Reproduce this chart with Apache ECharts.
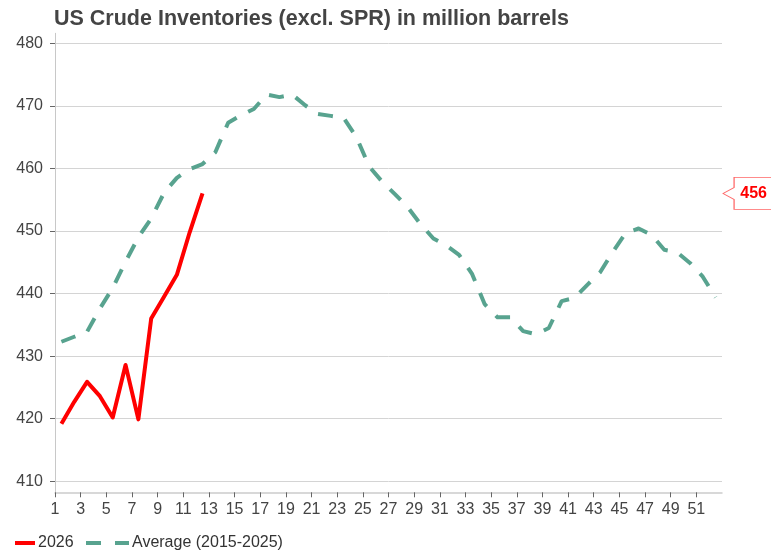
<!DOCTYPE html>
<html>
<head>
<meta charset="utf-8">
<script src="https://cdn.jsdelivr.net/npm/echarts@6.0.0/dist/echarts.min.js"></script>
<style>
  html, body { margin: 0; padding: 0; background: #fff; }
  #chart { width: 771px; height: 553px; }
</style>
</head>
<body>
<div id="chart"></div>
<script>
// week numbers (categories)
const weeks = ['1', '2', '3', '4', '5', '6', '7', '8', '9', '10', '11', '12', '13',
  '14', '15', '16', '17', '18', '19', '20', '21', '22', '23', '24', '25', '26',
  '27', '28', '29', '30', '31', '32', '33', '34', '35', '36', '37', '38', '39',
  '40', '41', '42', '43', '44', '45', '46', '47', '48', '49', '50', '51', '52'];
// tick labels sit on the week boundaries, one more than the weeks
const weekTicks = weeks.concat(['53']);

const yTicks = [410, 480, 10]; // min, max, step

const inv2026 = [419.2, 422.7, 425.9, 423.6, 420.2, 428.6, 419.9, 436.0, 439.5, 443.0, 449.8, 456.0];

const avg2015_2025 = [432.3, 433.1, 433.9, 437.6, 440.9, 445.1, 449.0, 452.0, 456.1, 458.5,
  459.9, 460.7, 462.6, 467.3, 468.5, 469.5, 471.8, 471.4, 471.8, 470.1,
  468.7, 468.4, 468.1, 465.0, 460.3, 457.9, 455.9, 453.8, 451.1, 448.8,
  447.7, 446.2, 443.2, 438.3, 436.2, 436.2, 434.0, 433.5, 434.5, 438.8,
  439.3, 441.4, 443.4, 446.7, 449.7, 450.4, 449.4, 447.0, 446.6, 444.9,
  442.7, 439.4];

const font = "'Liberation Sans', Arial, sans-serif";
const lastVal = inv2026[inv2026.length - 1];
const everyOther = (i) => i % 2 === 0 && i < weeks.length;

const myChart = echarts.init(document.getElementById('chart'));
myChart.setOption({
  animation: false,
  textStyle: { fontFamily: font },
  title: {
    text: 'US Crude Inventories (excl. SPR) in million barrels',
    left: 54, top: 8, padding: 0,
    textStyle: { fontSize: 21.5, fontWeight: 'bold', color: '#444', fontFamily: font }
  },
  legend: [
    {
      data: ['2026'], left: 15, top: 535, padding: 0,
      icon: 'path://M0,0 L20,0 L20,4 L0,4 Z',
      itemWidth: 20, itemHeight: 4,
      textStyle: { fontSize: 16, color: '#333', fontFamily: font, padding: [0, 0, 0, -2] }
    },
    {
      data: ['Average (2015-2025)'], left: 86, top: 535, padding: 0,
      icon: 'path://M0,0 L15,0 L15,4 L0,4 Z M29,0 L43,0 L43,4 L29,4 Z',
      itemWidth: 43, itemHeight: 4,
      textStyle: { fontSize: 16, color: '#333', fontFamily: font, padding: [0, 0, 0, -2] }
    }
  ],
  grid: [
    { left: 55, right: 49, top: 33.3, bottom: 60.7 },
    { left: 55, right: 49, top: 43.3, bottom: 71.7 }
  ],
  xAxis: [
    { type: 'category', gridIndex: 0, data: weeks, boundaryGap: true, show: false },
    {
      type: 'category', gridIndex: 0, data: weekTicks, boundaryGap: false, position: 'bottom',
      axisLine: { lineStyle: { color: '#ccc', width: 1.5 } },
      axisTick: { interval: everyOther, length: 5, lineStyle: { color: '#666' } },
      axisLabel: { interval: everyOther, margin: 9, fontSize: 16, color: '#444', fontFamily: font },
      splitLine: { show: false }
    },
    { type: 'category', gridIndex: 1, data: weeks, show: false }
  ],
  yAxis: [
    {
      type: 'value', gridIndex: 0, min: 408.24, max: 481.6,
      axisLine: { show: true, lineStyle: { color: '#c8c8c8' } },
      axisTick: { show: false }, axisLabel: { show: false }, splitLine: { show: false }
    },
    {
      type: 'value', gridIndex: 1, min: yTicks[0], max: yTicks[1], interval: yTicks[2],
      axisLine: { show: false },
      axisTick: { show: true, length: 5, lineStyle: { color: '#666' } },
      axisLabel: { margin: 12, fontSize: 16, color: '#444', fontFamily: font },
      splitLine: { lineStyle: { color: '#d4d4d4' } }
    }
  ],
  series: [
    {
      name: '2026', type: 'line', xAxisIndex: 0, yAxisIndex: 0,
      data: inv2026, showSymbol: false, symbol: 'none', z: 3,
      lineStyle: { color: '#ff0000', width: 4, join: 'round' },
      itemStyle: { color: '#ff0000' },
      markPoint: {
        symbol: 'path://M11,0 L51,0 L51,32 L11,32 L11,22 L0,16 L11,10 Z',
        symbolSize: [51, 32],
        symbolOffset: [33, 0],
        itemStyle: { color: '#fff', borderColor: '#ff6666', borderWidth: 1 },
        label: {
          show: true, position: 'inside', offset: [5, 0],
          formatter: '{c}', fontSize: 16, fontWeight: 'bold', color: '#ff0000', fontFamily: font
        },
        data: [{ coord: [weeks[weeks.length - 1], lastVal], value: lastVal }]
      }
    },
    {
      name: 'Average (2015-2025)', type: 'line', xAxisIndex: 0, yAxisIndex: 0,
      data: avg2015_2025, showSymbol: false, symbol: 'none', z: 2,
      lineStyle: { color: '#58a38f', width: 4, type: [15, 13], join: 'round' },
      itemStyle: { color: '#58a38f' }
    }
  ]
});
</script>
</body>
</html>
